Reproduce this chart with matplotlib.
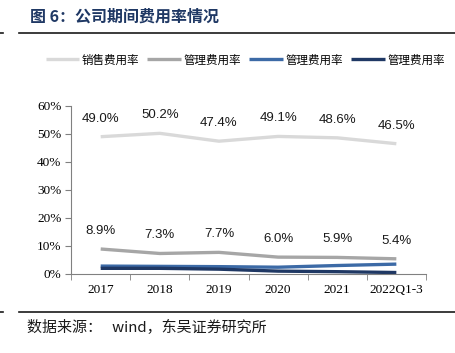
import matplotlib
matplotlib.use("Agg")
import matplotlib.pyplot as plt
import numpy as np

plt.rcParams["font.family"] = ["Noto Sans CJK SC", "DejaVu Sans"]

# data (percent)
years = ["2017", "2018", "2019", "2020", "2021", "2022Q1-3"]
sales = [49.0, 50.2, 47.4, 49.1, 48.6, 46.5]
mgmt = [8.9, 7.3, 7.7, 6.0, 5.9, 5.4]
mgmt2 = [2.8, 2.7, 2.6, 2.4, 3.0, 3.5]
mgmt3 = [2.0, 2.0, 1.7, 1.0, 0.8, 0.5]
names = ["销售费用率", "管理费用率", "管理费用率", "管理费用率"]
colors = ["#d9d9d9", "#a6a6a6", "#3c6aa6", "#1f3864"]

fig = plt.figure(figsize=(4.56, 3.53), dpi=100)
ax = fig.add_axes([0.156, 0.224, 0.778, 0.476])

x = np.arange(len(years))
lines = []
for vals, c, n in zip([sales, mgmt, mgmt2, mgmt3], colors, names):
    ln, = ax.plot(x, vals, color=c, lw=2.4, solid_capstyle="butt", label=n)
    lines.append(ln)

for vals in (sales, mgmt):
    for xi, v in zip(x, vals):
        ax.annotate(f"{v:.1f}%", (xi, v), xytext=(0, 13), textcoords="offset points",
                    ha="center", va="center", fontsize=9.5, family="Liberation Sans",
                    color="#1a1a1a")

ax.set_xlim(-0.5, 5.5)
ax.set_ylim(0, 60)
ax.set_yticks(range(0, 61, 10))
ax.set_yticklabels([f"{t}%" for t in range(0, 61, 10)], family="Liberation Serif", fontsize=9.5)
ax.set_xticks(x)
ax.set_xticklabels(years, family="Liberation Serif", fontsize=9.5)
ax.set_xticks(np.arange(-0.5, 5.6, 1), minor=True)
ax.tick_params(axis="x", which="major", length=0, pad=7)
ax.tick_params(axis="x", which="minor", length=4, color="#808080", direction="out")
ax.tick_params(axis="y", length=4, color="#808080", direction="out", pad=3)
for s in ("top", "right"):
    ax.spines[s].set_visible(False)
for s in ("left", "bottom"):
    ax.spines[s].set_color("#808080")
    ax.spines[s].set_linewidth(0.8)

fig.legend(handles=lines, loc="center", bbox_to_anchor=(0.538, 0.83), ncol=4,
           frameon=False, fontsize=8.3, handlelength=2.9, handletextpad=0.25,
           columnspacing=0.7)

# title and rules
fig.text(0.066, 0.952, "图 6：公司期间费用率情况", fontsize=11.5, fontweight="bold",
         color="#1f3864", va="center", ha="left")
fig.add_artist(plt.Line2D([0.042, 1.0], [0.907, 0.907], color="#1a1a1a", lw=1.2))
fig.add_artist(plt.Line2D([0.0, 0.006], [0.907, 0.907], color="#1a1a1a", lw=1.2))
fig.add_artist(plt.Line2D([0.042, 1.0], [0.117, 0.117], color="#1a1a1a", lw=1.2))
fig.add_artist(plt.Line2D([0.0, 0.006], [0.117, 0.117], color="#1a1a1a", lw=1.2))
fig.text(0.059, 0.072, "数据来源：   wind，东吴证券研究所", fontsize=10.8,
         color="#1a1a1a", va="center", ha="left")

fig.savefig("out.png", dpi=100, facecolor="white")
